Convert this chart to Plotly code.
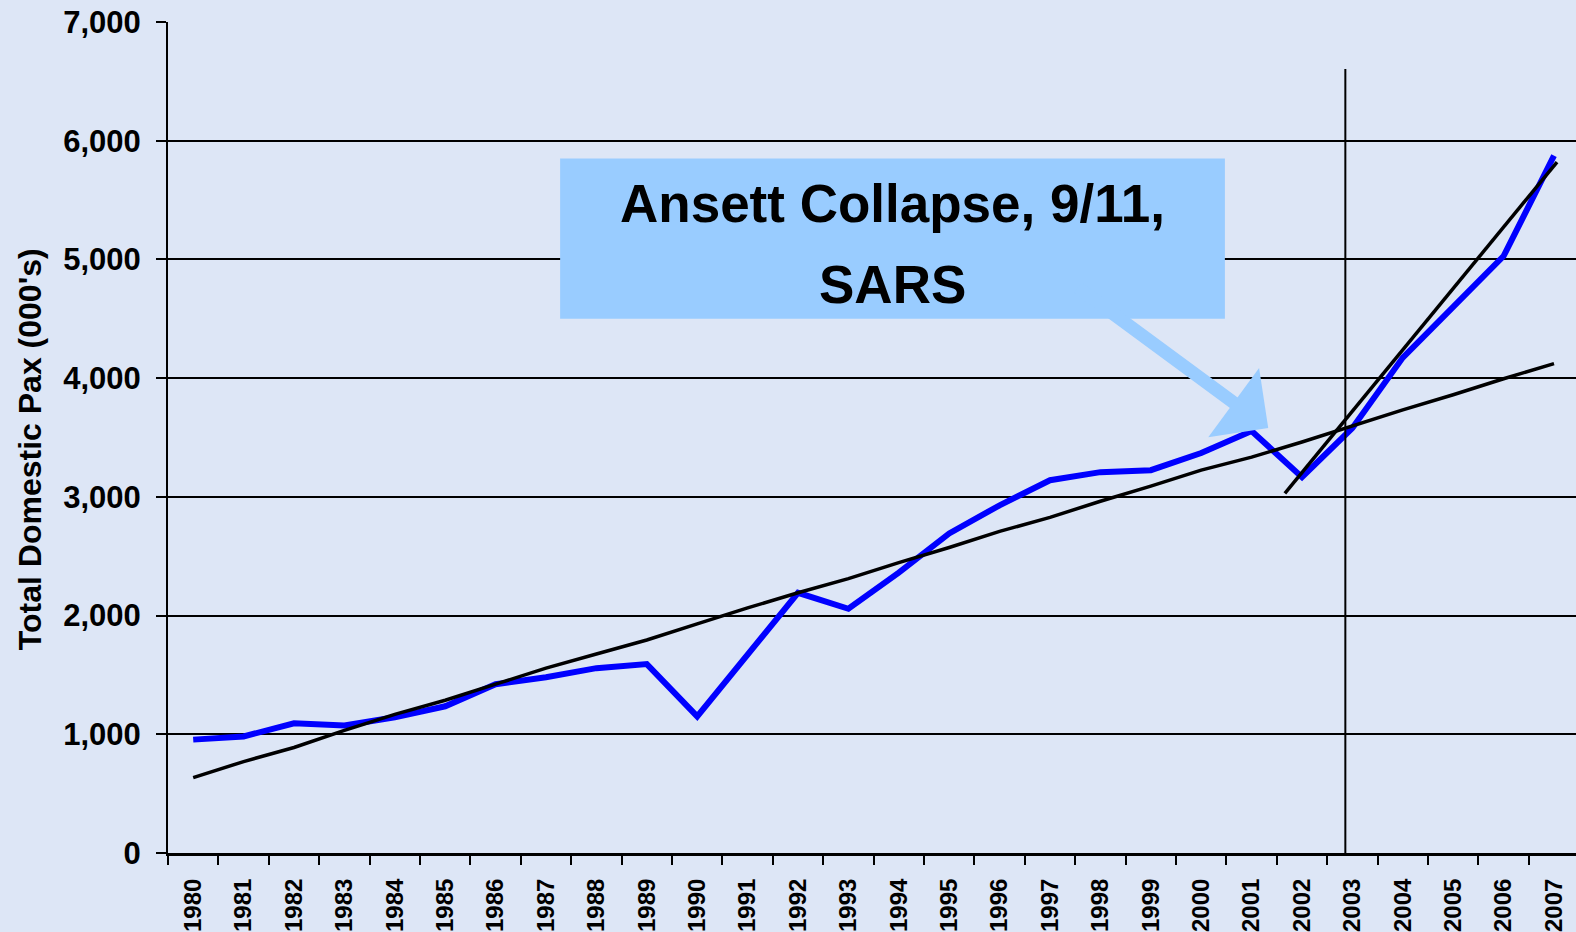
import plotly.graph_objects as go

BG_COLOR = "rgb(221,230,246)"
SERIES_COLOR = "rgb(0,0,255)"
CALLOUT_COLOR = "rgb(153,204,255)"
FONT = "Arial, Liberation Sans, sans-serif"

years = list(range(1980, 2008))

# total domestic passengers (000's)
pax = [955, 982, 1092, 1075, 1143, 1236, 1422, 1481, 1557, 1591,
       1151, 1665, 2192, 2057, 2362, 2692, 2929, 3140, 3208, 3225,
       3369, 3555, 3166, 3580, 4173, 4600, 5028, 5874]

# long-run trend 1980-2007
trend_long = [635, 770, 889, 1033, 1168, 1287, 1422, 1557, 1676, 1794,
              1930, 2065, 2192, 2311, 2446, 2573, 2709, 2827, 2963, 3090,
              3225, 3335, 3462, 3597, 3733, 3860, 3995, 4122]

# post-2002 trend (end points)
trend_recent_x = [2001.66, 2007.06]
trend_recent_y = [3030, 5820]

marker_x = 2002.86
marker_span = [-160, 6605]

callout_lines = ["Ansett Collapse, 9/11,", "SARS"]
callout_line_y = [5470, 4790]
callout_box_x = [1987.28, 2000.47]
callout_box_y = [4500, 5850]
arrow_tail = (1997.52, 4770)
arrow_tip = (2001.33, 3580)

PLOT_LEFT, PLOT_W = 168, 1408
CAT_W = 50.4

fig = go.Figure()

fig.add_trace(go.Scatter(
    x=years, y=pax, mode="lines",
    line=dict(color=SERIES_COLOR, width=6),
))
fig.add_trace(go.Scatter(
    x=years, y=trend_long, mode="lines",
    line=dict(color="black", width=3.5),
))
fig.add_trace(go.Scatter(
    x=trend_recent_x, y=trend_recent_y, mode="lines",
    line=dict(color="black", width=3.5),
))

# vertical marker at 2003
fig.add_shape(type="line", xref="x", yref="y",
              x0=marker_x, x1=marker_x,
              y0=marker_span[0], y1=marker_span[1],
              line=dict(color="black", width=2), layer="above")

# callout arrow, then the box over its tail
fig.add_annotation(
    x=arrow_tip[0], y=arrow_tip[1], xref="x", yref="y",
    ax=arrow_tail[0], ay=arrow_tail[1], axref="x", ayref="y",
    text="", showarrow=True, arrowhead=1, arrowsize=1.1,
    arrowwidth=13, arrowcolor=CALLOUT_COLOR, standoff=0,
)
fig.add_shape(type="rect", xref="x", yref="y",
              x0=callout_box_x[0], x1=callout_box_x[1],
              y0=callout_box_y[0], y1=callout_box_y[1],
              fillcolor=CALLOUT_COLOR, line=dict(width=0), layer="above")
for line_text, line_y in zip(callout_lines, callout_line_y):
    fig.add_annotation(
        x=sum(callout_box_x) / 2, y=line_y, xref="x", yref="y",
        text=line_text, showarrow=False, yanchor="middle",
        font=dict(family=FONT, size=53, color="black", weight="bold"),
    )

# y-axis title
fig.add_annotation(
    x=(30 - PLOT_LEFT) / PLOT_W, y=0.486, xref="paper", yref="paper",
    text="Total Domestic Pax (000's)", textangle=-90, showarrow=False,
    xanchor="center", yanchor="middle",
    font=dict(family=FONT, size=32, color="black", weight="bold"),
)

fig.update_layout(
    width=1576, height=932,
    paper_bgcolor=BG_COLOR, plot_bgcolor=BG_COLOR,
    showlegend=False,
    margin=dict(l=PLOT_LEFT, r=0, t=22, b=76),
    font=dict(family=FONT, color="black"),
    xaxis=dict(
        range=[1979.5, 1979.5 + PLOT_W / CAT_W],
        tickvals=years, ticktext=[str(y) for y in years],
        tickangle=-90, ticks="", ticklen=0, ticklabelstandoff=13,
        tickfont=dict(size=24, weight="bold"),
        showgrid=False, zeroline=False,
        showline=True, linecolor="black", linewidth=3,
        minor=dict(tickvals=[y - 0.5 for y in years], ticks="outside",
                   ticklen=9, tickwidth=2, tickcolor="black", showgrid=False),
    ),
    yaxis=dict(
        range=[0, 7000],
        tickvals=list(range(0, 7001, 1000)),
        tickformat=",d",
        tickfont=dict(size=31, weight="bold"),
        ticks="outside", ticklen=10, tickwidth=2, tickcolor="black",
        ticklabelstandoff=9,
        showgrid=True, gridcolor="black", gridwidth=2,
        zeroline=False,
        showline=True, linecolor="black", linewidth=2,
    ),
)

fig.write_html("out.html", config={"displayModeBar": False},
               post_script="document.body.style.margin='0';")
